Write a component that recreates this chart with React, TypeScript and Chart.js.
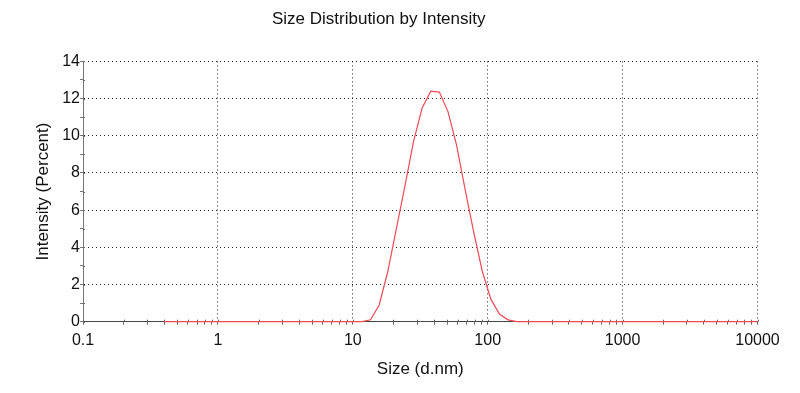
import React, { useEffect, useRef } from "react";
import { Chart, registerables } from "chart.js";

Chart.register(...registerables);

// Size bins (d.nm)
const sizes: number[] = [
  0.4, 0.4632, 0.5365, 0.6213, 0.7195, 0.8332, 0.9649, 1.117, 1.294, 1.499,
  1.736, 2.01, 2.328, 2.696, 3.122, 3.615, 4.187, 4.849, 5.615, 6.503,
  7.531, 8.721, 10.1, 11.7, 13.54, 15.69, 18.17, 21.04, 24.36, 28.21,
  32.67, 37.84, 43.82, 50.75, 58.77, 68.06, 78.82, 91.28, 105.7, 122.4,
  141.8, 164.2, 190.1, 220.2, 255.0, 295.3, 342.0, 396.1, 458.7, 531.2,
  615.1, 712.4, 825.0, 955.4, 1106, 1281, 1484, 1718, 1990, 2305,
  2669, 3091, 3580, 4145, 4801, 5560, 6439, 7456, 8635, 10000,
];

// Intensity (Percent)
const intensity: number[] = [
  0, 0, 0, 0, 0, 0, 0, 0, 0, 0,
  0, 0, 0, 0, 0, 0, 0, 0, 0, 0,
  0, 0, 0, 0, 0.1, 0.9, 2.7, 5.0, 7.3, 9.7,
  11.5, 12.4, 12.35, 11.3, 9.5, 7.1, 4.8, 2.7, 1.2, 0.4,
  0.1, 0, 0, 0, 0, 0, 0, 0, 0, 0,
  0, 0, 0, 0, 0, 0, 0, 0, 0, 0,
  0, 0, 0, 0, 0, 0, 0, 0, 0, 0,
];

const xMajorTicks: number[] = [0.1, 1, 10, 100, 1000, 10000];
const xTickLabels: string[] = ["0.1", "1", "10", "100", "1000", "10000"];
const xMinorMultipliers: number[] = [2, 3, 4, 5, 6, 7, 8, 9];
const yTicks: number[] = [0, 1, 2, 3, 4, 5, 6, 7, 8, 9, 10, 11, 12, 13, 14];
const yTickLabels: string[] = ["0", "", "2", "", "4", "", "6", "", "8", "", "10", "", "12", "", "14"];

const FONT = "'Liberation Sans', Arial, sans-serif";

function isMajorX(v: number): boolean {
  return xMajorTicks.some((m) => Math.abs(m - v) / m < 1e-9);
}

// Draws the short inner part of the tick marks so they cross the axis lines
const innerTicks = {
  id: "innerTicks",
  beforeDatasetsDraw(chart: any) {
    const { ctx, chartArea, scales } = chart;
    ctx.save();
    ctx.lineWidth = 1;
    ctx.strokeStyle = "#666";
    ctx.beginPath();
    scales.x.ticks.forEach((t: any) => {
      const px = Math.round(scales.x.getPixelForValue(t.value)) + 0.5;
      ctx.moveTo(px, chartArea.bottom);
      ctx.lineTo(px, chartArea.bottom - 2);
    });
    scales.y.ticks.forEach((t: any) => {
      const py = Math.round(scales.y.getPixelForValue(t.value)) + 0.5;
      ctx.moveTo(chartArea.left, py);
      ctx.lineTo(chartArea.left + 2, py);
    });
    ctx.stroke();
    ctx.restore();
  },
};

export default function App() {
  const ref = useRef<HTMLCanvasElement | null>(null);

  useEffect(() => {
    if (!ref.current) return;
    const xTickValues: number[] = [];
    xMajorTicks.forEach((m, i) => {
      xTickValues.push(m);
      if (i < xMajorTicks.length - 1) {
        xMinorMultipliers.forEach((k) => xTickValues.push(+(m * k).toPrecision(6)));
      }
    });

    const chart = new Chart(ref.current, {
      type: "line",
      data: {
        datasets: [
          {
            data: sizes.map((s, i) => ({ x: s, y: intensity[i] })),
            borderColor: "#ee4b55",
            borderWidth: 1.2,
            pointRadius: 0,
            tension: 0,
            fill: false,
            clip: false,
          },
        ],
      },
      options: {
        responsive: false,
        animation: false,
        layout: { padding: { left: 0, right: 42.5, top: 0, bottom: 0 } },
        plugins: {
          legend: { display: false },
          tooltip: { enabled: false },
          title: {
            display: true,
            text: "Size Distribution by Intensity",
            color: "#111",
            font: { family: FONT, size: 17, weight: "normal" },
            padding: { top: 9, bottom: 32 },
          },
        },
        scales: {
          x: {
            type: "logarithmic",
            min: 0.1,
            max: 10000,
            afterBuildTicks: (scale: any) => {
              scale.ticks = xTickValues.map((v) => ({ value: v, major: isMajorX(v) }));
            },
            afterFit: (scale: any) => {
              scale.height = 71.3;
            },
            ticks: {
              autoSkip: false,
              maxRotation: 0,
              padding: 6,
              color: "#111",
              font: { family: FONT, size: 16 },
              callback: (value: any) => {
                const idx = xMajorTicks.findIndex((m) => Math.abs(m - value) / m < 1e-9);
                return idx >= 0 ? xTickLabels[idx] : "";
              },
            },
            grid: {
              color: (ctx: any) =>
                ctx.tick && isMajorX(ctx.tick.value) && ctx.tick.value !== 0.1 ? "#222" : "rgba(0,0,0,0)",
              tickColor: "#666",
              tickLength: 3,
              lineWidth: 1,
            },
            border: { display: true, color: "#444", width: 1, dash: [1, 3] },
            title: {
              display: true,
              text: "Size (d.nm)",
              color: "#111",
              font: { family: FONT, size: 17 },
              padding: { top: 0, bottom: 13 },
            },
          },
          y: {
            type: "linear",
            min: 0,
            max: 14,
            afterBuildTicks: (scale: any) => {
              scale.ticks = yTicks.map((v) => ({ value: v }));
            },
            afterFit: (scale: any) => {
              scale.width = 83;
            },
            ticks: {
              autoSkip: false,
              padding: 0,
              color: "#111",
              font: { family: FONT, size: 16 },
              callback: (value: any) => {
                const idx = yTicks.indexOf(value);
                return idx >= 0 ? yTickLabels[idx] : "";
              },
            },
            grid: {
              color: (ctx: any) =>
                ctx.tick && ctx.tick.value > 0 && ctx.tick.value % 2 === 0 ? "#222" : "rgba(0,0,0,0)",
              tickColor: "#777",
              tickLength: 3,
              lineWidth: 1,
            },
            border: { display: true, color: "#777", width: 1, dash: [1, 3] },
            title: {
              display: true,
              text: "Intensity (Percent)",
              color: "#111",
              font: { family: FONT, size: 17 },
              padding: { top: 33, bottom: 0 },
            },
          },
        },
      },
      plugins: [innerTicks],
    } as any);
    return () => chart.destroy();
  }, []);

  return (
    <div style={{ position: "fixed", left: 0, top: 0, width: 800, height: 393, background: "#fff" }}>
      <canvas ref={ref} width={800} height={393} />
    </div>
  );
}
